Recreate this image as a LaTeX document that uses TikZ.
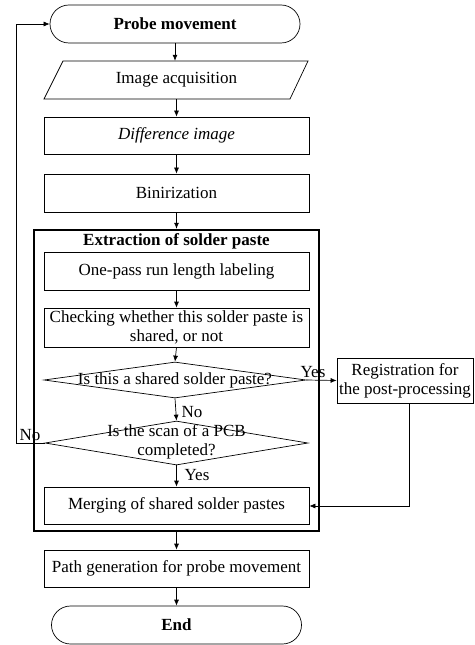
\documentclass[tikz,border=0pt]{standalone}
\usepackage{fontspec}
\setmainfont{Liberation Serif}
\usetikzlibrary{shapes.geometric,arrows.meta}
\newcommand{\fsz}{\fontsize{17bp}{19bp}\selectfont}
\tikzset{
  box/.style={draw, line width=0.7bp, minimum width=265bp, inner sep=0pt, align=center, font=\fsz},
  term/.style={box, rounded corners=19bp, minimum width=250bp, minimum height=38bp},
  dec/.style={draw, line width=0.7bp, diamond, inner sep=0pt},
  txt/.style={align=center, font=\fsz, inner sep=0pt},
  arr/.style={line width=0.7bp, -{Latex[length=6bp,width=5bp]}},
  ln/.style={line width=0.7bp}
}
\begin{document}
\begin{tikzpicture}[x=1bp,y=-1bp]
\useasboundingbox (0,0) rectangle (475,645);
% terminals
\node[term, font=\fsz\bfseries] (probe) at (175,24) {Probe movement};
% parallelogram
\draw[ln] (63,61) -- (308,61) -- (290,99) -- (44,99) -- cycle;
\node[txt, minimum width=250bp, minimum height=38bp] (acq) at (176.5,80) {Image acquisition};
\node[box, minimum height=37bp] (diff) at (176.5,135.5) {\itshape Difference image};
\node[box, minimum height=38bp] (bin) at (176.5,193) {Binirization};
% extraction frame
\node[draw, line width=2.4bp, minimum width=285bp, minimum height=301bp, inner sep=0pt] (ext) at (176.5,380.5) {};
\node[txt, font=\fsz\bfseries] (title) at (176.5,241) {Extraction of solder paste};
\node[box, minimum height=38bp] (one) at (176.5,271) {One-pass run length labeling};
\node[box, minimum height=39bp] (check) at (176.5,327.5) {Checking whether this solder paste is\\shared, or not};
\node[dec, minimum width=262bp, minimum height=36bp] (d1) at (175,380) {};
\node[txt] (d1t) at (d1) {Is this a shared solder paste?};
\node[box, minimum width=136bp, minimum height=45bp] (reg) at (405,380.5) {Registration for\\the post-processing};
\node[dec, minimum width=263bp, minimum height=44bp] (d2) at (176.5,443) {};
\node[txt] (d2t) at (176.5,442) {Is the scan of a PCB\\completed?};
\node[box, minimum height=37bp] (merge) at (176.5,505.5) {Merging of shared solder pastes};
\node[box, minimum height=37bp] (path) at (176.5,568.5) {Path generation for probe movement};
\node[term, font=\fsz\bfseries] (end) at (176.5,625) {End};
% labels
\node[txt] (yes1) at (313,372) {Yes};
\node[txt] (no1) at (192,412) {No};
\node[txt] (no2) at (30,435) {No};
\node[txt] (yes2) at (197,475) {Yes};
% connectors
\coordinate (c1) at (16,443);
\coordinate (c2) at (16,24);
\coordinate (r1) at (409,403);
\coordinate (r2) at (409,506);
\draw[arr] (probe.south) -- (probe.south |- acq.north);
\draw[arr] (acq.south) -- (diff.north);
\draw[arr] (diff.south) -- (bin.north);
\draw[arr] (bin.south) -- (ext.north);
\draw[arr] (one.south) -- (check.north);
\draw[arr] (check.south) -- (d1.north);
\draw[arr] (d1.east) -- (reg.west);
\draw[arr] (d1.south) -- (d2.north);
\draw[arr] (d2.south) -- (merge.north);
\draw[arr] (d2.west) -- (c1) -- (c2) -- (probe.west);
\draw[arr] (r1) -- (r2) -- (merge.east |- r2);
\draw[arr] (ext.south) -- (path.north);
\draw[arr] (path.south) -- (end.north);
\end{tikzpicture}
\end{document}
